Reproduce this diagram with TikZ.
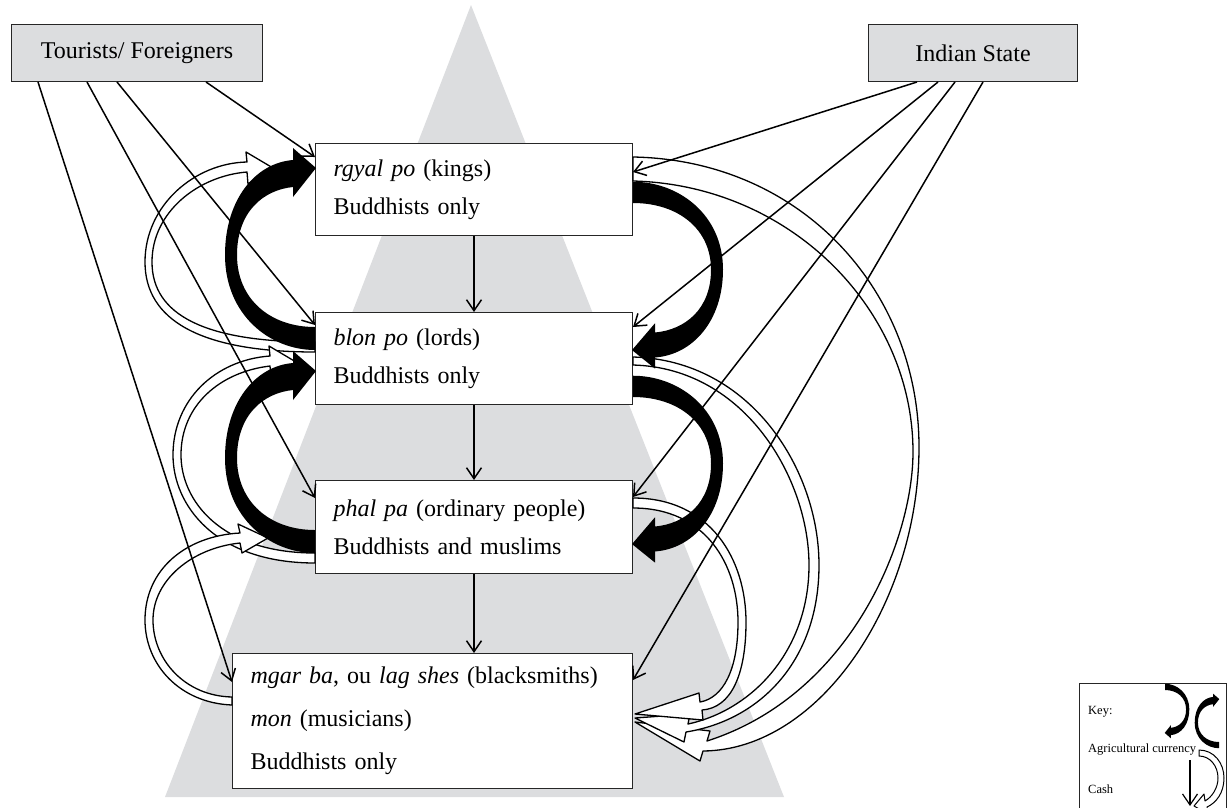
\documentclass[tikz,border=0pt]{standalone}
\usepackage{fontspec}
\setmainfont{Liberation Serif}
\usetikzlibrary{arrows.meta,calc}

\definecolor{pyramid}{RGB}{220,221,223}

\tikzset{
  classbox/.style={draw=black!85, fill=white, line width=1pt, anchor=north west,
    minimum height=92pt, text width=281pt, inner xsep=18pt, align=left,
    font=\fontsize{24}{38}\selectfont},
  actor/.style={draw=black!85, fill=pyramid, line width=1pt, anchor=north west,
    minimum height=57pt, font=\fontsize{24}{28}\selectfont},
  keytext/.style={anchor=west, inner sep=0pt, font=\fontsize{12.5}{14}\selectfont},
  link/.style={line width=1.5pt, -{Straight Barb[length=11pt,width=15pt]}},
  cash/.style={draw, fill=white, line width=1.3pt, line join=round},
  agri/.pic={
    \fill (0,23) .. controls (-45,23) and (-90,-12) .. (-90,-72)
      .. controls (-90,-127) and (-60,-164) .. (-22,-167) -- (-22,-179) -- (1,-159)
      -- (-22,-130) -- (-22,-140) .. controls (-52,-137) and (-78,-115) .. (-78,-72)
      .. controls (-78,-28) and (-45,0) .. (0,0) -- cycle;
  }
}

\begin{document}
\begin{tikzpicture}[x=1pt,y=-1pt]
\useasboundingbox (0,0) rectangle (1227,807);

% pyramid
\fill[pyramid] (471,5) -- (784,797) -- (165,797) -- cycle;

% groups
\node[actor, minimum width=251pt] (tour) at (11,24) {Tourists/ Foreigners};
\node[actor, minimum width=209pt] (state) at (868,24) {Indian State};
\node[classbox] (kings) at (315,143) {\textit{rgyal po} (kings)\\ Buddhists only};
\node[classbox] (lords) at (315,312) {\textit{blon po} (lords)\\ Buddhists only};
\node[classbox, minimum height=93pt] (phal) at (315,480) {\textit{phal pa} (ordinary people)\\ Buddhists and muslims};
\node[classbox, minimum height=135pt, text width=364pt, font=\fontsize{24}{43}\selectfont] (low) at (232,653)
  {\textit{mgar ba}, ou \textit{lag shes} (blacksmiths)\\ \textit{mon} (musicians)\\ Buddhists only};

% cash, left side
\draw[cash, shift={(lords.north west)}] (0,40) .. controls (-115,40) and (-170,8) .. (-170,-50)
  .. controls (-170,-107) and (-120,-149) .. (-68,-150) -- (-69,-160) -- (-42,-144) -- (-67,-128)
  -- (-68,-140) .. controls (-117,-136) and (-163,-100) .. (-163,-50)
  .. controls (-163,3) and (-110,30) .. (0,30) -- cycle;
\draw[cash, shift={(phal.north west)}] (0,83) .. controls (-100,83) and (-142,25) .. (-142,-25)
  .. controls (-142,-80) and (-100,-120) .. (-45,-124) -- (-46,-134) -- (-19,-118) -- (-44,-103)
  -- (-45,-114) .. controls (-95,-108) and (-134,-75) .. (-134,-25)
  .. controls (-134,20) and (-95,73) .. (0,73) -- cycle;
\draw[cash, shift={(low.north west)}] (0,52) .. controls (-52,50) and (-87,12) .. (-87,-33)
  .. controls (-87,-83) and (-47,-117) .. (8,-120) -- (6,-129) -- (36,-115) -- (10,-100)
  -- (8,-110) .. controls (-40,-105) and (-79,-73) .. (-79,-33)
  .. controls (-79,7) and (-47,43) .. (0,44) -- cycle;

% cash, right side
\draw[cash, shift={(kings.north east)}] (0,14) .. controls (168,17) and (286,147) .. (286,304)
  .. controls (286,457) and (188,607) .. (70,608) -- (67,618) -- (2,579) -- (77,588)
  -- (74,598) .. controls (218,552) and (280,397) .. (280,309)
  .. controls (280,167) and (158,42) .. (0,38) -- cycle;
\draw[cash, shift={(lords.north east)}] (0,45) .. controls (118,48) and (186,158) .. (186,253)
  .. controls (186,348) and (128,408) .. (53,420) -- (51,430) -- (2,406) -- (57,402)
  -- (55,412) .. controls (120,398) and (176,338) .. (176,253)
  .. controls (176,168) and (113,56) .. (0,53) -- cycle;
\draw[cash, shift={(phal.north east)}] (0,18) .. controls (78,18) and (113,80) .. (113,142)
  .. controls (113,195) and (98,228) .. (69,230) -- (70,240) -- (2,234) -- (66,213)
  -- (67,222) .. controls (90,218) and (105,190) .. (105,142)
  .. controls (105,85) and (73,28) .. (0,28) -- cycle;

% agricultural currency
\pic at ($(lords.north west)+(0,15)$) {agri};
\pic at ($(phal.north west)+(0,50)$) {agri};
\pic[rotate=180, yscale=.925] at ($(kings.north east)+(0,60)$) {agri};
\pic[rotate=180, yscale=.925] at ($(lords.north east)+(0,85)$) {agri};

% down the pyramid
\draw[link] (kings) -- (lords);
\draw[link] (lords) -- (phal);
\draw[link] (phal) -- (phal.south |- low.north);

% tourists
\draw[link] ($(tour.south west)+(195,0)$) -- ($(kings.north west)+(0,14)$);
\draw[link] ($(tour.south west)+(106,0)$) -- ($(lords.north west)+(0,13)$);
\draw[link] ($(tour.south west)+(76,0)$) -- ($(phal.north west)+(0,18)$);
\draw[link] ($(tour.south west)+(27,0)$) -- ($(low.north west)+(0,29)$);

% state
\draw[link] ($(state.south west)+(49,0)$) -- ($(kings.north east)+(0,29)$);
\draw[link] ($(state.south west)+(70,0)$) -- ($(lords.north east)+(0,15)$);
\draw[link] ($(state.south west)+(87,0)$) -- ($(phal.north east)+(0,17)$);
\draw[link] ($(state.south west)+(115,0)$) -- ($(low.north east)+(0,27)$);

% key
\node[draw=black!85, line width=1pt, anchor=north west, minimum width=147pt, minimum height=140pt] (key) at (1079,683) {};
\node[keytext] (keyhead) at (1088,712) {Key:};
\node[keytext] (keyagri) at (1088,750) {Agricultural currency};
\node[keytext] (keycash) at (1088,789) {Cash};
\pic[rotate=180, scale=.27] at (1165,690) {agri};
\pic[scale=.27] at (1219,742) {agri};
\draw[cash, line width=1pt, shift={(key.north west)}] (120,67) .. controls (135,67) and (145,80) .. (145,95)
  .. controls (145,110) and (137,120) .. (128,124) -- (129,131) -- (115,123) -- (125,111)
  -- (126,118) .. controls (133,114) and (139,105) .. (139,95)
  .. controls (139,83) and (131,73) .. (120,73) -- cycle;
\coordinate (cashtop) at (1190,760);
\coordinate (cashend) at (1190,806);
\draw[link, line width=1.2pt] (cashtop) -- (cashend);
\end{tikzpicture}
\end{document}
